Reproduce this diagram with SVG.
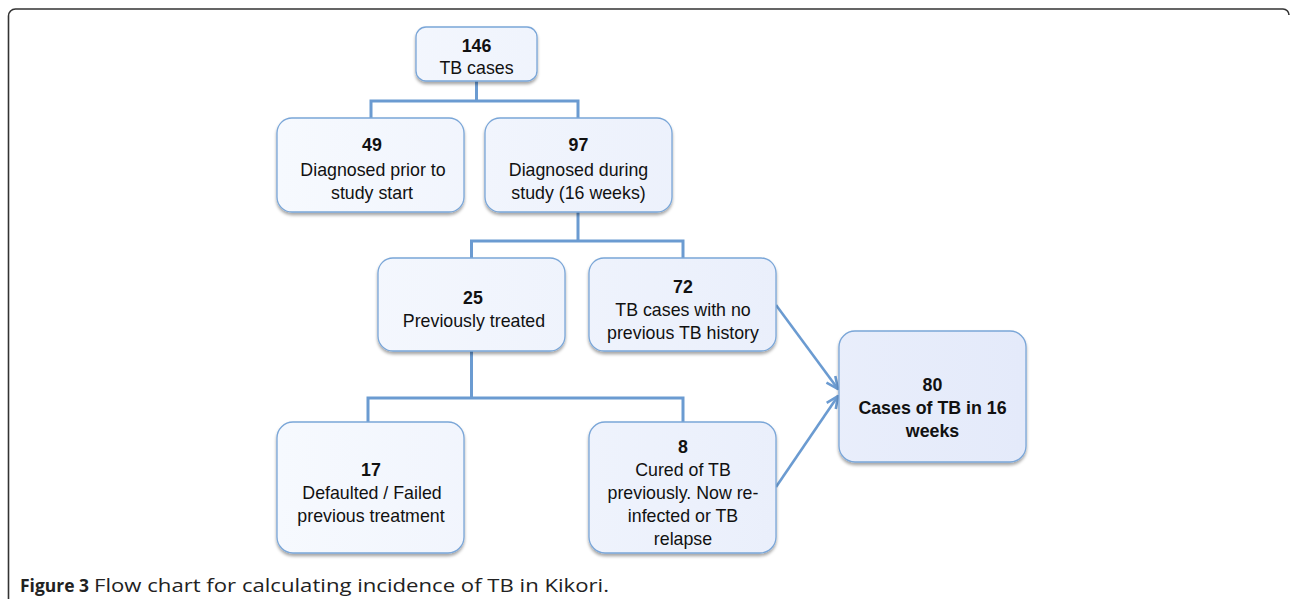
<svg xmlns="http://www.w3.org/2000/svg" width="1290" height="599" viewBox="0 0 1290 599">
<defs>
<linearGradient id="fillGrad" gradientUnits="userSpaceOnUse" x1="277" y1="0" x2="1026" y2="0">
<stop offset="0" stop-color="#f6f9fe"/>
<stop offset="1" stop-color="#e4eafa"/>
</linearGradient>
<filter id="shadow" x="-10%" y="-10%" width="120%" height="130%">
<feDropShadow dx="0" dy="2.5" stdDeviation="1.6" flood-color="#000" flood-opacity="0.35"/>
</filter>
<marker id="arrow" viewBox="0 0 14 14" refX="13" refY="7" markerWidth="14" markerHeight="14" markerUnits="userSpaceOnUse" orient="auto">
<path d="M1,1.5 L13,7 L1,12.5" fill="none" stroke="#6b9bd1" stroke-width="2.6" stroke-linejoin="miter"/>
</marker>
<style>
.box{fill:url(#fillGrad);stroke:#7aa6d8;stroke-width:1.3;filter:url(#shadow);}
.t{font-family:"Liberation Sans",Arial,sans-serif;font-size:17.8px;fill:#111;text-anchor:middle;}
.b{font-weight:bold;}
.conn{fill:none;stroke:#6b9bd1;stroke-width:3;}
.arr{fill:none;stroke:#6b9bd1;stroke-width:2.6;marker-end:url(#arrow);}
.cap{font-family:"Open Sans","Liberation Sans",sans-serif;font-size:18px;fill:#222;}
</style>
</defs>
<rect width="1290" height="599" fill="#fff"/>
<path d="M8.5 600 V16 A7 7 0 0 1 15.5 9 H1283 A6 6 0 0 1 1289 15" fill="none" stroke="#333" stroke-width="1.6"/>

<g id="connectors">
<path class="conn" d="M476.5 81 V101 M371 101 H578 M371 99.5 V118 M578 99.5 V118"/>
<path class="conn" d="M578 212 V241 M471.5 241 H683 M471.5 239.5 V258 M683 239.5 V258"/>
<path class="conn" d="M471.5 351 V398 M368 398 H683 M368 396.5 V422 M683 396.5 V422"/>
<line class="arr" x1="776" y1="305" x2="838" y2="389"/>
<line class="arr" x1="776" y1="487" x2="838" y2="396"/>
</g>

<g id="n146">
<rect class="box" x="416" y="27" width="121" height="54" rx="10"/>
<text class="t b" x="476.5" y="52">146</text>
<text class="t" x="476.5" y="74">TB cases</text>
</g>
<g id="n49">
<rect class="box" x="277" y="118" width="187" height="94" rx="15"/>
<text class="t b" x="372" y="151">49</text>
<text class="t" x="373" y="176">Diagnosed prior to</text>
<text class="t" x="372" y="199">study start</text>
</g>
<g id="n97">
<rect class="box" x="485" y="118" width="187" height="94" rx="15"/>
<text class="t b" x="578.5" y="151">97</text>
<text class="t" x="578.5" y="176">Diagnosed during</text>
<text class="t" x="578.5" y="199">study (16 weeks)</text>
</g>
<g id="n25">
<rect class="box" x="378" y="258" width="187" height="93" rx="15"/>
<text class="t b" x="473" y="304">25</text>
<text class="t" x="474" y="327">Previously treated</text>
</g>
<g id="n72">
<rect class="box" x="589" y="258" width="187" height="93" rx="15"/>
<text class="t b" x="683" y="293">72</text>
<text class="t" x="683" y="316">TB cases with no</text>
<text class="t" x="683" y="339">previous TB history</text>
</g>
<g id="n17">
<rect class="box" x="277" y="422" width="187" height="131" rx="16"/>
<text class="t b" x="371" y="476">17</text>
<text class="t" x="372" y="499">Defaulted / Failed</text>
<text class="t" x="371" y="522">previous treatment</text>
</g>
<g id="n8">
<rect class="box" x="589" y="422" width="187" height="131" rx="16"/>
<text class="t b" x="683" y="453">8</text>
<text class="t" x="683" y="476">Cured of TB</text>
<text class="t" x="683" y="499">previously. Now re-</text>
<text class="t" x="683" y="522">infected or TB</text>
<text class="t" x="683" y="545">relapse</text>
</g>
<g id="n80">
<rect class="box" x="839" y="331" width="187" height="131" rx="16"/>
<text class="t b" x="932.5" y="391">80</text>
<text class="t b" x="932.5" y="414">Cases of TB in 16</text>
<text class="t b" x="932.5" y="437">weeks</text>
</g>

<text class="cap" y="592"><tspan x="20" font-weight="bold" textLength="69" lengthAdjust="spacingAndGlyphs">Figure 3</tspan><tspan x="94" textLength="515" lengthAdjust="spacingAndGlyphs">Flow chart for calculating incidence of TB in Kikori.</tspan></text>
</svg>
